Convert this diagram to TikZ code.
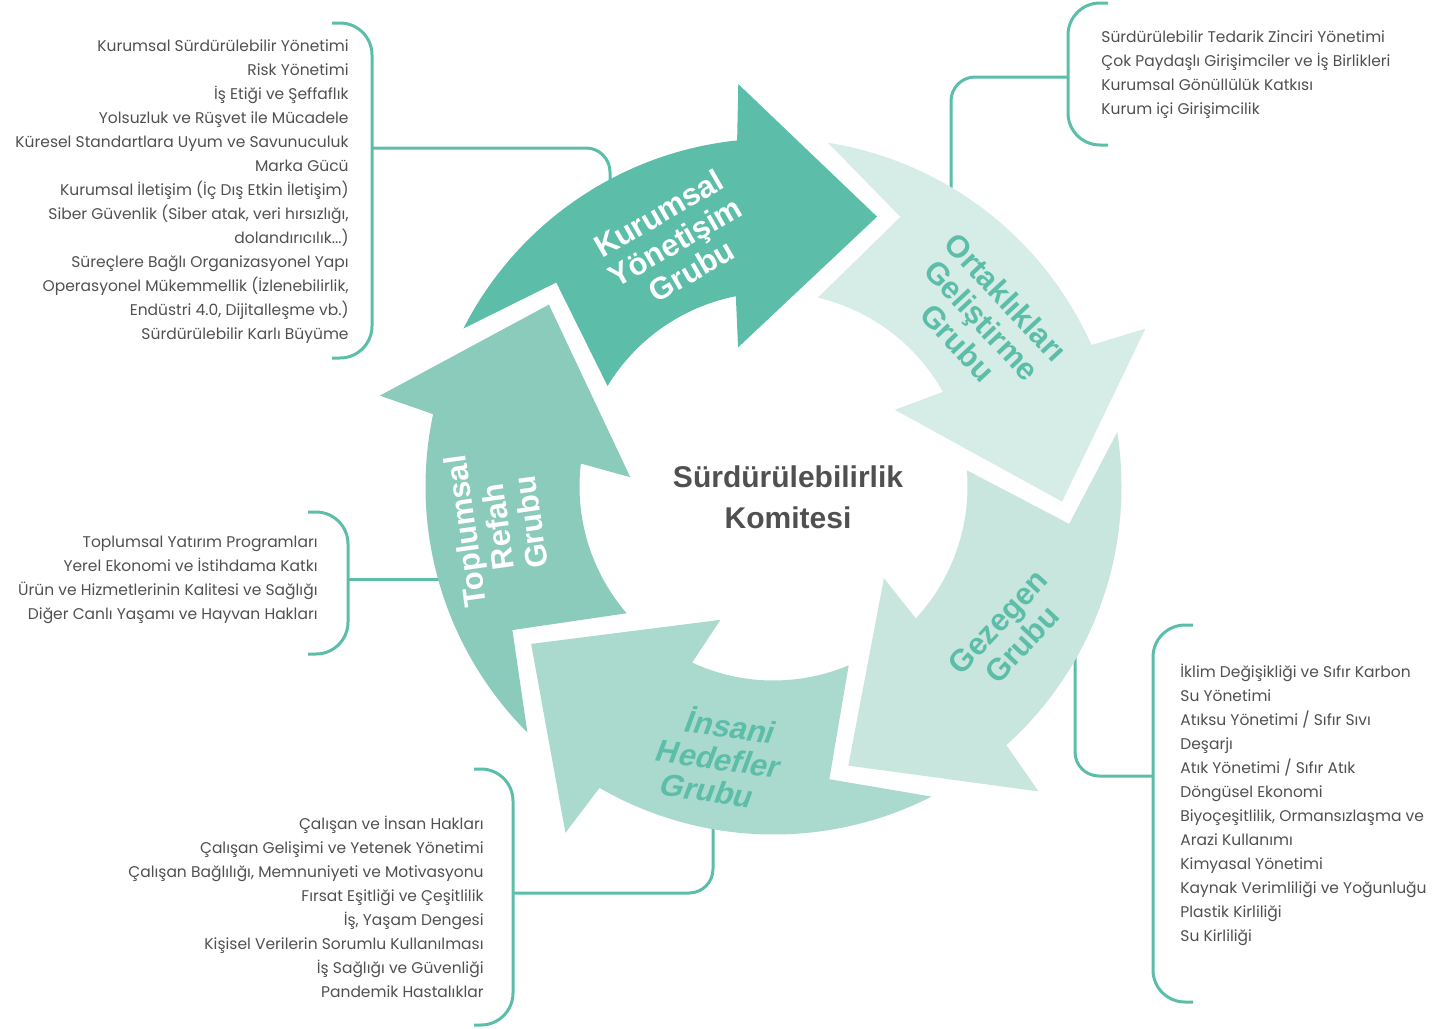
\documentclass[tikz,border=0pt]{standalone}
\usepackage{fontspec}
\setmainfont{Poppins}
\newfontfamily\grpfont{Liberation Sans}
\usetikzlibrary{positioning}

\definecolor{kurumsal}{HTML}{5CBDA9}
\definecolor{ortak}{HTML}{D6ECE6}
\definecolor{gezegen}{HTML}{C9E6DE}
\definecolor{insani}{HTML}{AAD9CD}
\definecolor{toplum}{HTML}{8BCBBC}
\definecolor{itemgray}{HTML}{505050}

\begin{document}
\begin{tikzpicture}[x=0.5pt,y=-0.5pt,
  items/.style={text=itemgray,font=\fontsize{7.75}{12}\selectfont,inner sep=0pt},
  grp/.style={font=\grpfont\bfseries\fontsize{15.5}{16.5}\selectfont,align=center,inner sep=0pt},
  brace/.style={draw=kurumsal,line width=1.5pt,rounded corners=16pt},
  link/.style={draw=kurumsal,line width=1.5pt,rounded corners=12pt}]

  \useasboundingbox (0,0) rectangle (1444,1028);

  \coordinate (kStub) at (372,148);  \coordinate (kEnd) at (610,200);
  \coordinate (oStub) at (1068,77);  \coordinate (oEnd) at (951,200);
  \coordinate (gStub) at (1153,776); \coordinate (gEnd) at (1075,650);
  \coordinate (iStub) at (513,893);  \coordinate (iEnd) at (713,815);
  \coordinate (tStub) at (348,579);  \coordinate (tEnd) at (450,579);

  % brackets
  \draw[brace] (332,23) -- (372,23) -- (372,358) -- (332,358);
  \draw[brace] (1108,3) -- (1068,3) -- (1068,145) -- (1108,145);
  \draw[brace] (1193,625) -- (1153,625) -- (1153,1002) -- (1193,1002);
  \draw[brace] (308,512) -- (348,512) -- (348,654) -- (308,654);
  \draw[brace] (474,769) -- (513,769) -- (513,1025) -- (474,1025);

  \draw[link] (kStub) -| (kEnd);
  \draw[link] (oStub) -| (oEnd);
  \draw[link] (gStub) -| (gEnd);
  \draw[link] (iStub) -| (iEnd);
  \draw[link] (tStub) -- (tEnd);

  % the five arrows of the cycle
  \begin{scope}[shift={(773.5,486.5)}]
    \foreach \a/\c in {-97.7/kurumsal,-25.7/ortak,46.3/gezegen,118.3/insani,190.3/toplum}
      \fill[\c] (\a-55.3:348) -- (\a-39.1:298) -- (\a-51.1:194)
        arc[start angle=\a-51.1,end angle=\a-3.5,radius=194]
        -- (\a-6.6:143.5) -- (\a+28.7:289) -- (\a+2.7:404) -- (\a+1.7:348)
        arc[start angle=\a+1.7,end angle=\a-55.3,radius=348] -- cycle;
  \end{scope}

  \node[grp,text=white,rotate=30]     (kLabel) at (675,242) {Kurumsal\\Yönetişim\\Grubu};
  \node[grp,text=kurumsal,rotate=-47] (oLabel) at (982,320) {Ortaklıkları\\Geliştirme\\Grubu};
  \node[grp,text=kurumsal,rotate=47]  (gLabel) at (1010,633) {Gezegen\\Grubu};
  \node[grp,text=kurumsal,rotate=-8,xslant=0.22] (iLabel) at (720,757) {İnsani\\Hedefler\\Grubu};
  \node[grp,text=white,rotate=98]     (tLabel) at (498,527) {Toplumsal\\Refah\\Grubu};

  \node[font=\grpfont\bfseries\fontsize{15}{20.5}\selectfont,text=itemgray,align=center]
    (komite) at (788,497) {Sürdürülebilirlik\\Komitesi};

  \node[items,anchor=east,align=right] (kList) at (349,191.5) {Kurumsal Sürdürülebilir Yönetimi\\
    Risk Yönetimi\\İş Etiği ve Şeffaflık\\Yolsuzluk ve Rüşvet ile Mücadele\\
    Küresel Standartlara Uyum ve Savunuculuk\\Marka Gücü\\
    Kurumsal İletişim (İç Dış Etkin İletişim)\\Siber Güvenlik (Siber atak, veri hırsızlığı,\\
    dolandırıcılık...)\\Süreçlere Bağlı Organizasyonel Yapı\\
    Operasyonel Mükemmellik (İzlenebilirlik,\\Endüstri 4.0, Dijitalleşme vb.)\\
    Sürdürülebilir Karlı Büyüme};
  \node[items,anchor=west,align=left] (oList) at (1101,75) {Sürdürülebilir Tedarik Zinciri Yönetimi\\
    Çok Paydaşlı Girişimciler ve İş Birlikleri\\Kurumsal Gönüllülük Katkısı\\Kurum içi Girişimcilik};
  \node[items,anchor=west,align=left] (gList) at (1180,805) {İklim Değişikliği ve Sıfır Karbon\\
    Su Yönetimi\\Atıksu Yönetimi / Sıfır Sıvı\\Deşarjı\\Atık Yönetimi / Sıfır Atık\\
    Döngüsel Ekonomi\\Biyoçeşitlilik, Ormansızlaşma ve\\Arazi Kullanımı\\Kimyasal Yönetimi\\
    Kaynak Verimliliği ve Yoğunluğu\\Plastik Kirliliği\\Su Kirliliği};
  \node[items,anchor=east,align=right] (tList) at (318,580) {Toplumsal Yatırım Programları\\
    Yerel Ekonomi ve İstihdama Katkı\\Ürün ve Hizmetlerinin Kalitesi ve Sağlığı\\
    Diğer Canlı Yaşamı ve Hayvan Hakları};
  \node[items,anchor=east,align=right] (iList) at (484,906.5) {Çalışan ve İnsan Hakları\\
    Çalışan Gelişimi ve Yetenek Yönetimi\\Çalışan Bağlılığı, Memnuniyeti ve Motivasyonu\\
    Fırsat Eşitliği ve Çeşitlilik\\İş, Yaşam Dengesi\\Kişisel Verilerin Sorumlu Kullanılması\\
    İş Sağlığı ve Güvenliği\\Pandemik Hastalıklar};
\end{tikzpicture}
\end{document}
